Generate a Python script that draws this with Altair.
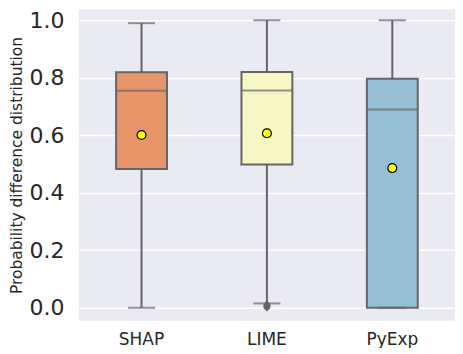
import altair as alt
import pandas as pd

methods = ["SHAP", "LIME", "PyExp"]
whisker_low = [0.0, 0.015, 0.0]
q1 = [0.483, 0.498, 0.0]
median = [0.755, 0.756, 0.69]
q3 = [0.819, 0.82, 0.797]
whisker_high = [0.99, 1.0, 1.0]
means = [0.601, 0.607, 0.486]
colors = ["#e8956a", "#f7f7c6", "#96bfd4"]

outlier_method = ["LIME", "LIME", "LIME", "LIME"]
outlier_values = [0.0, 0.004, 0.008, 0.012]

df = pd.DataFrame({
    "method": methods, "lo": whisker_low, "q1": q1, "med": median,
    "q3": q3, "hi": whisker_high, "mean": means,
})
out_df = pd.DataFrame({"method": outlier_method, "v": outlier_values})

edge = "#666666"
lw = 2
xenc = alt.X("method:N", sort=methods, title=None,
             axis=alt.Axis(labelAngle=0, labelFontSize=17, labelPadding=11,
                           ticks=False, domain=False, grid=False,
                           labelColor="#262626", labelFont="DejaVu Sans"),
             scale=alt.Scale(paddingInner=0, paddingOuter=0))
yscale = alt.Scale(domain=[-0.045, 1.038], nice=False, zero=False)
yaxis = alt.Axis(values=[0, 0.2, 0.4, 0.6, 0.8, 1.0], format=".1f",
                 labelFontSize=22, labelPadding=15, ticks=False, domain=False,
                 gridColor="white", gridWidth=1.5, labelColor="#262626",
                 labelFont="DejaVu Sans", title="Probability difference distribution",
                 titleFontSize=15.5, titleFontWeight="normal", titleColor="#262626",
                 titleFont="DejaVu Sans", titlePadding=4)

base = alt.Chart(df)
whisk = base.mark_rule(color=edge, strokeWidth=lw).encode(
    x=xenc, y=alt.Y("lo:Q", scale=yscale, axis=yaxis), y2="hi:Q")
box = base.mark_bar(size=51, stroke=edge, strokeWidth=lw).encode(
    x=xenc, y=alt.Y("q1:Q", scale=yscale), y2="q3:Q",
    color=alt.Color("method:N", scale=alt.Scale(domain=methods, range=colors), legend=None),
    opacity=alt.value(1))
med = base.mark_tick(size=51, thickness=lw, color=edge).encode(
    x=xenc, y=alt.Y("med:Q", scale=yscale))
cap_hi = base.mark_tick(size=27, thickness=lw, color=edge).encode(
    x=xenc, y=alt.Y("hi:Q", scale=yscale))
cap_lo = base.mark_tick(size=27, thickness=lw, color=edge).encode(
    x=xenc, y=alt.Y("lo:Q", scale=yscale))
outl = alt.Chart(out_df).mark_point(shape="diamond", filled=True, color=edge,
                                    size=55, opacity=1).encode(
    x=xenc, y=alt.Y("v:Q", scale=yscale))
mean_pt = base.mark_point(shape="circle", filled=True, fill="yellow", stroke="black",
                          strokeWidth=1.2, size=80, opacity=1).encode(
    x=xenc, y=alt.Y("mean:Q", scale=yscale))

chart = alt.layer(whisk, box, med, cap_hi, cap_lo, outl, mean_pt).properties(
    width=377, height=312, padding={"left": 2, "top": 0, "right": 0, "bottom": 0}
).configure_view(fill="#eaeaf2", stroke=None)

chart.save("out.html", embed_options={"renderer": "svg", "actions": False})
